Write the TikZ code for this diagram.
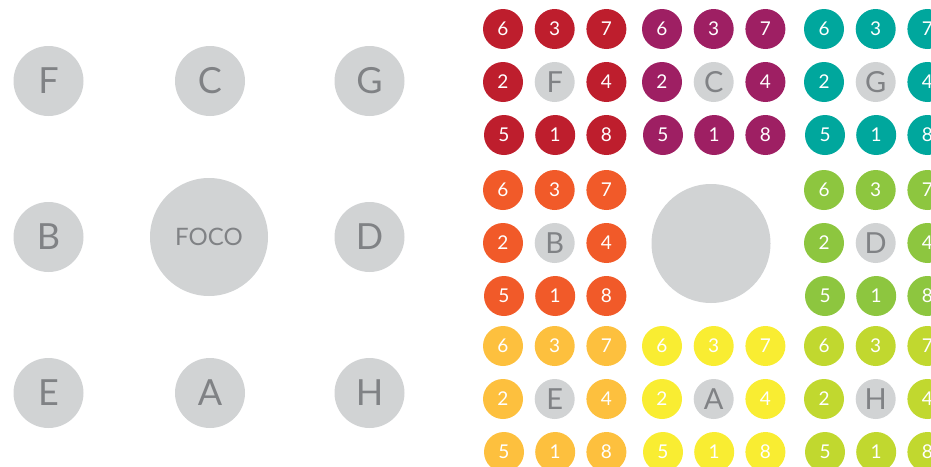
\documentclass[tikz,border=0pt]{standalone}
\usepackage{fontspec}
\setmainfont{Lato}
\definecolor{cgray}{HTML}{D1D3D4}
\definecolor{ctext}{HTML}{808285}
\definecolor{cred}{HTML}{BE1E2D}
\definecolor{cpurple}{HTML}{9E1F63}
\definecolor{cteal}{HTML}{00A79D}
\definecolor{corange}{HTML}{F15A29}
\definecolor{cgreen}{HTML}{8DC63F}
\definecolor{clorange}{HTML}{FDC03E}
\definecolor{cyellow}{HTML}{F9ED32}
\definecolor{clime}{HTML}{C1D82F}
\begin{document}
\begin{tikzpicture}[x=1pt,y=-1pt,
  bigdot/.style={circle,fill=cgray,inner sep=0pt,minimum size=70pt,text=ctext,font=\fontsize{36}{36}\selectfont},
  focodot/.style={circle,fill=cgray,inner sep=0pt,minimum size=118pt,text=ctext,font=\fontsize{24}{24}\selectfont},
  numdot/.style={circle,fill=#1,inner sep=0pt,minimum size=40pt,text=white,font=\fontsize{19}{19}\selectfont},
  letdot/.style={circle,fill=cgray,inner sep=0pt,minimum size=40pt,text=ctext,font=\fontsize{29}{29}\selectfont},
  centdot/.style={circle,fill=cgray,inner sep=0pt,minimum size=119pt}
]
\useasboundingbox (0,0) rectangle (931,466);
\clip (0,0) rectangle (931,466);
% left grid
\node[bigdot] (F) at (48.5,81) {F};
\node[bigdot] (C) at (210,81) {C};
\node[bigdot] (G) at (369.5,81) {G};
\node[bigdot] (B) at (48.5,237) {B};
\node[focodot] (FOCO) at (209,237) {FOCO};
\node[bigdot] (D) at (369.5,237) {D};
\node[bigdot] (E) at (48.5,393) {E};
\node[bigdot] (A) at (210,393) {A};
\node[bigdot] (H) at (369.5,393) {H};
% right blocks
\foreach \bx/\by/\col/\lt in {503/29/cred/F, 662/29/cpurple/C, 824/29/cteal/G,
    503/190/corange/B, 824/190/cgreen/D,
    503/346/clorange/E, 662/346/cyellow/A, 824/346/clime/H}{
  \node[numdot=\col] (\lt-6) at (\bx,\by) {6};
  \node[numdot=\col] (\lt-3) at (\bx+51.7,\by) {3};
  \node[numdot=\col] (\lt-7) at (\bx+103.4,\by) {7};
  \node[numdot=\col] (\lt-2) at (\bx,\by+53) {2};
  \node[letdot] (\lt-x) at (\bx+51.7,\by+53) {\lt};
  \node[numdot=\col] (\lt-4) at (\bx+103.4,\by+53) {4};
  \node[numdot=\col] (\lt-5) at (\bx+1,\by+106) {5};
  \node[numdot=\col] (\lt-1) at (\bx+52.2,\by+106) {1};
  \node[numdot=\col] (\lt-8) at (\bx+103.4,\by+106) {8};
}
\node[centdot] (center) at (711,243.5) {};
\end{tikzpicture}
\end{document}
